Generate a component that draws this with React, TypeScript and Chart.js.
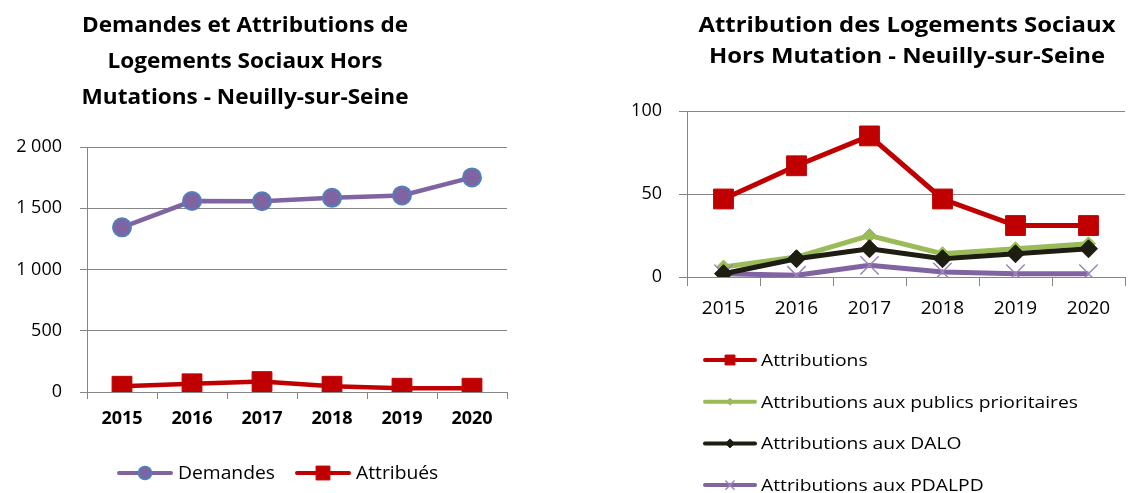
import React, { useEffect, useRef } from 'react';
import { Chart, registerables } from 'chart.js';

Chart.register(...registerables);

const FONT = '"Open Sans", Lato, sans-serif';

const years = ['2015', '2016', '2017', '2018', '2019', '2020'];
const demandes = [1344, 1559, 1557, 1585, 1605, 1752];
const attribues = [47, 67, 85, 47, 31, 31];

const attributions = [47, 67, 85, 47, 31, 31];
const publicsPrioritaires = [6, 12, 25, 14, 17, 20];
const dalo = [2, 11, 17, 11, 14, 17];
const pdalpd = [2, 1, 7, 3, 2, 2];

const leftYTickLabels = ['0', '500', '1 000', '1 500', '2 000'];
const rightYTickLabels = ['0', '50', '100'];

const leftTitle = ['Demandes et Attributions de', 'Logements Sociaux Hors', 'Mutations - Neuilly-sur-Seine'];
const rightTitle = ['Attribution des Logements Sociaux', 'Hors Mutation - Neuilly-sur-Seine'];

const leftLegendLabels = ['Demandes', 'Attribués'];
const rightLegendLabels = [
  'Attributions',
  'Attributions aux publics prioritaires',
  'Attributions aux DALO',
  'Attributions aux PDALPD',
];

type DecorCfg = {
  title: string[];
  titleX: number;
  titleY0: number;
  titleDy: number;
  titleSize: number;
  titleFitLine: number;
  titleFitWidth: number;
  legendVertical: boolean;
  legendX: number;
  legendY: number;
  legendDy: number;
  legendSize: number;
  legendFitItem: number;
  legendFitWidth: number;
  legendSampleW: number;
  legendGap: number;
  legendItemGap: number;
  legendMarkerScale: number;
};

function drawMarker(
  ctx: CanvasRenderingContext2D,
  style: string,
  x: number,
  y: number,
  r: number,
  fill: string,
  stroke: string,
  lw: number
) {
  ctx.save();
  ctx.fillStyle = fill;
  ctx.strokeStyle = stroke;
  ctx.lineWidth = lw;
  ctx.beginPath();
  if (style === 'circle') {
    ctx.arc(x, y, r, 0, Math.PI * 2);
  } else if (style === 'rect') {
    const s = r * Math.SQRT1_2;
    ctx.rect(x - s, y - s, 2 * s, 2 * s);
  } else if (style === 'rectRot') {
    ctx.moveTo(x - r, y);
    ctx.lineTo(x, y - r);
    ctx.lineTo(x + r, y);
    ctx.lineTo(x, y + r);
    ctx.closePath();
  } else if (style === 'crossRot') {
    const d = r * Math.SQRT1_2;
    ctx.moveTo(x - d, y - d);
    ctx.lineTo(x + d, y + d);
    ctx.moveTo(x + d, y - d);
    ctx.lineTo(x - d, y + d);
  }
  if (style !== 'crossRot') ctx.fill();
  if (lw > 0) ctx.stroke();
  ctx.restore();
}

function makeDecor(cfg: DecorCfg) {
  return {
    id: 'decor',
    afterDraw(chart: any) {
      const ctx: CanvasRenderingContext2D = chart.ctx;
      ctx.save();
      // Title (condensed horizontally to match the narrow original face)
      ctx.fillStyle = '#000';
      ctx.textAlign = 'center';
      ctx.textBaseline = 'alphabetic';
      ctx.font = `bold ${cfg.titleSize}px ${FONT}`;
      const tw = ctx.measureText(cfg.title[cfg.titleFitLine]).width;
      const tScale = cfg.titleFitWidth / tw;
      cfg.title.forEach((t, i) => {
        ctx.save();
        ctx.translate(cfg.titleX, cfg.titleY0 + i * cfg.titleDy);
        ctx.scale(tScale, 1);
        ctx.fillText(t, 0, 0);
        ctx.restore();
      });

      // Legend
      const datasets = chart.data.datasets;
      ctx.font = `${cfg.legendSize}px ${FONT}`;
      const lw0 = ctx.measureText(datasets[cfg.legendFitItem].label).width;
      const lScale = cfg.legendFitWidth / lw0;
      ctx.textAlign = 'left';
      ctx.textBaseline = 'middle';
      let x = cfg.legendX;
      let y = cfg.legendY;
      datasets.forEach((ds: any, i: number) => {
        if (cfg.legendVertical) {
          x = cfg.legendX;
          y = cfg.legendY + i * cfg.legendDy;
        }
        ctx.save();
        ctx.strokeStyle = ds.borderColor;
        ctx.lineWidth = 4;
        ctx.lineCap = 'round';
        ctx.beginPath();
        ctx.moveTo(x + 2, y);
        ctx.lineTo(x + cfg.legendSampleW - 2, y);
        ctx.stroke();
        ctx.restore();
        drawMarker(
          ctx,
          ds.pointStyle,
          x + cfg.legendSampleW / 2,
          y,
          ds.pointRadius * cfg.legendMarkerScale,
          ds.pointBackgroundColor,
          ds.pointBorderColor,
          ds.pointBorderWidth
        );
        ctx.fillStyle = '#000';
        const tx = x + cfg.legendSampleW + cfg.legendGap;
        ctx.save();
        ctx.translate(tx, y + 1);
        ctx.scale(lScale, 1);
        ctx.fillText(ds.label, 0, 0);
        ctx.restore();
        if (!cfg.legendVertical) {
          x = tx + ctx.measureText(ds.label).width * lScale + cfg.legendItemGap;
        }
      });
      ctx.restore();
    },
  };
}

function LeftChart() {
  const ref = useRef<HTMLCanvasElement>(null);
  useEffect(() => {
    if (!ref.current) return;
    const chart = new Chart(ref.current, {
      type: 'line',
      data: {
        labels: years,
        datasets: [
          {
            label: leftLegendLabels[0],
            data: demandes,
            borderColor: '#8064A2',
            borderWidth: 4.5,
            pointStyle: 'circle',
            pointRadius: 9,
            pointBackgroundColor: '#8064A2',
            pointBorderColor: '#4F81BD',
            pointBorderWidth: 2,
            tension: 0,
          },
          {
            label: leftLegendLabels[1],
            data: attribues,
            borderColor: '#C00000',
            borderWidth: 4.5,
            pointStyle: 'rect',
            pointRadius: 14,
            pointBackgroundColor: '#C00000',
            pointBorderColor: '#C00000',
            pointBorderWidth: 1,
            tension: 0,
          },
        ] as any,
      },
      options: {
        animation: false,
        responsive: false,
        layout: { padding: { top: 147, right: 53, bottom: 41, left: 0 } },
        plugins: { legend: { display: false }, title: { display: false }, tooltip: { enabled: false } },
        scales: {
          x: {
            offset: true,
            grid: { offset: true, drawOnChartArea: false, drawTicks: true, tickLength: 7, color: '#868686' },
            border: { color: '#868686' },
            ticks: { color: '#000', font: { family: FONT, size: 18, weight: 'bold' }, padding: 9 },
            afterFit: (s: any) => {
              s.height = 60;
            },
          },
          y: {
            min: 0,
            max: 2000,
            ticks: {
              stepSize: 500,
              color: '#000',
              font: { family: FONT, size: 18 },
              padding: 18,
              callback: (_v: any, i: number) => leftYTickLabels[i],
            },
            grid: { color: '#868686', tickLength: 7 },
            border: { color: '#868686' },
            afterFit: (s: any) => {
              s.width = 87;
            },
          },
        },
      } as any,
      plugins: [
        makeDecor({
          title: leftTitle,
          titleX: 245,
          titleY0: 32,
          titleDy: 36,
          titleSize: 21,
          titleFitLine: 0,
          titleFitWidth: 326,
          legendVertical: false,
          legendX: 117,
          legendY: 473,
          legendDy: 0,
          legendSize: 18,
          legendFitItem: 0,
          legendFitWidth: 97,
          legendSampleW: 56,
          legendGap: 5,
          legendItemGap: 20,
          legendMarkerScale: 0.7,
        }),
      ],
    });
    return () => chart.destroy();
  }, []);
  return <canvas ref={ref} width={560} height={493} />;
}

function RightChart() {
  const ref = useRef<HTMLCanvasElement>(null);
  useEffect(() => {
    if (!ref.current) return;
    const chart = new Chart(ref.current, {
      type: 'line',
      data: {
        labels: years,
        datasets: [
          {
            label: rightLegendLabels[0],
            data: attributions,
            borderColor: '#C00000',
            borderWidth: 5,
            pointStyle: 'rect',
            pointRadius: 14,
            pointBackgroundColor: '#C00000',
            pointBorderColor: '#C00000',
            pointBorderWidth: 1,
            tension: 0,
            order: 0,
          },
          {
            label: rightLegendLabels[1],
            data: publicsPrioritaires,
            borderColor: '#9BBB59',
            borderWidth: 5,
            pointStyle: 'rectRot',
            pointRadius: 7,
            pointBackgroundColor: '#9BBB59',
            pointBorderColor: '#9BBB59',
            pointBorderWidth: 1,
            tension: 0,
            order: 3,
          },
          {
            label: rightLegendLabels[2],
            data: dalo,
            borderColor: '#1D1D12',
            borderWidth: 5,
            pointStyle: 'rectRot',
            pointRadius: 9,
            pointBackgroundColor: '#1D1D12',
            pointBorderColor: '#1D1D12',
            pointBorderWidth: 1,
            tension: 0,
            order: 1,
          },
          {
            label: rightLegendLabels[3],
            data: pdalpd,
            borderColor: '#8064A2',
            borderWidth: 5,
            pointStyle: 'crossRot',
            pointRadius: 13,
            pointBackgroundColor: '#8064A2',
            pointBorderColor: '#9B85BC',
            pointBorderWidth: 1.5,
            tension: 0,
            order: 2,
          },
        ] as any,
      },
      options: {
        animation: false,
        responsive: false,
        layout: { padding: { top: 111, right: 9, bottom: 156, left: 0 } },
        plugins: { legend: { display: false }, title: { display: false }, tooltip: { enabled: false } },
        scales: {
          x: {
            offset: true,
            grid: { offset: true, drawOnChartArea: false, drawTicks: true, tickLength: 9, color: '#868686' },
            border: { color: '#868686' },
            ticks: { color: '#000', font: { family: FONT, size: 19 }, padding: 11 },
            afterFit: (s: any) => {
              s.height = 60;
            },
          },
          y: {
            min: 0,
            max: 100,
            ticks: {
              stepSize: 50,
              color: '#000',
              font: { family: FONT, size: 18 },
              padding: 17,
              callback: (_v: any, i: number) => rightYTickLabels[i],
            },
            grid: { color: '#868686', tickLength: 8 },
            border: { color: '#868686' },
            afterFit: (s: any) => {
              s.width = 87;
            },
          },
        },
      } as any,
      plugins: [
        makeDecor({
          title: rightTitle,
          titleX: 307,
          titleY0: 32,
          titleDy: 31,
          titleSize: 22,
          titleFitLine: 0,
          titleFitWidth: 417,
          legendVertical: true,
          legendX: 103,
          legendY: 360,
          legendDy: 41.7,
          legendSize: 17,
          legendFitItem: 1,
          legendFitWidth: 317,
          legendSampleW: 54,
          legendGap: 4,
          legendItemGap: 0,
          legendMarkerScale: 0.5,
        }),
      ],
    });
    return () => chart.destroy();
  }, []);
  return <canvas ref={ref} width={540} height={493} />;
}

export default function App() {
  return (
    <div
      style={{
        position: 'fixed',
        left: 0,
        top: 0,
        width: 1128,
        height: 493,
        overflow: 'hidden',
        background: '#fff',
      }}
    >
      <div style={{ position: 'absolute', left: 0, top: 0, width: 560, height: 493 }}>
        <LeftChart />
      </div>
      <div style={{ position: 'absolute', left: 600, top: 0, width: 540, height: 493 }}>
        <RightChart />
      </div>
    </div>
  );
}
